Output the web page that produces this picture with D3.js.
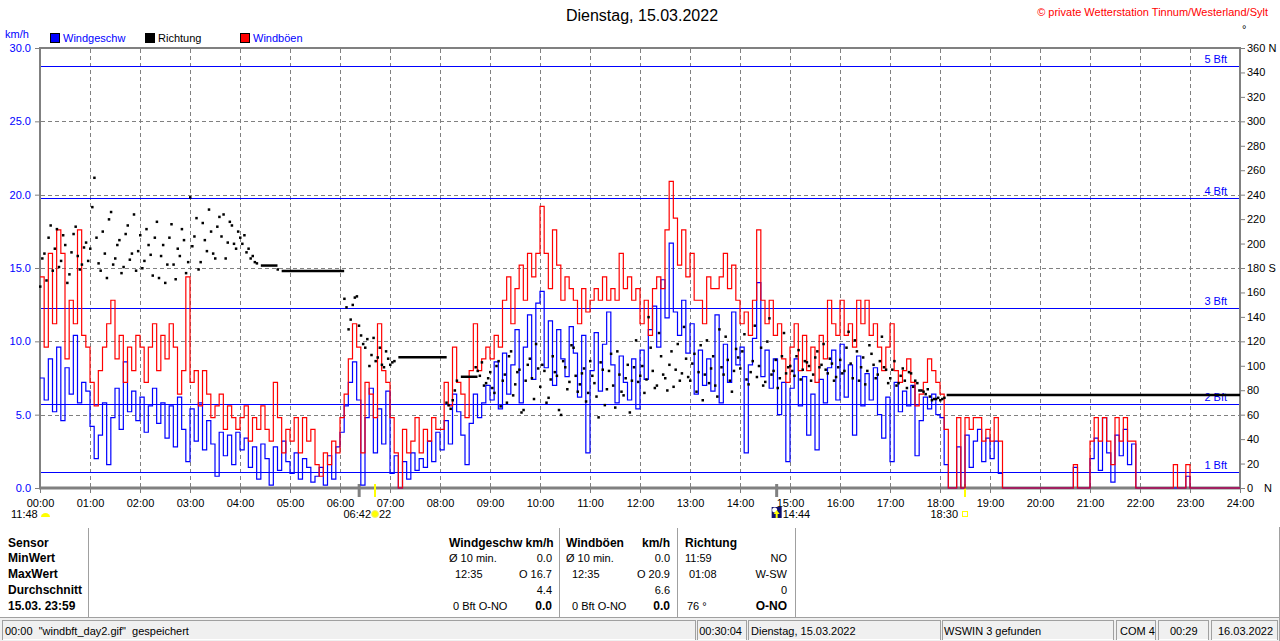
<!DOCTYPE html>
<html>
<head>
<meta charset="utf-8">
<script src="https://cdn.jsdelivr.net/npm/d3@7"></script>
<style>
  body { margin: 0; background: #fff; }
  svg { display: block; font-family: "Liberation Sans", Arial, sans-serif; }
  .pre { white-space: pre; }
</style>
</head>
<body>
<svg id="chart"></svg>
<script>
// --- Daten: 5-Minuten-Werte, je Zeile eine Stunde (00:00 .. 23:55) ---
const windgeschw = [
  [7.5, 6.0, 8.8, 5.2, 9.6, 4.6, 8.2, 6.4, 10.4, 5.8, 7.2, 6.6],
  [4.2, 2.0, 3.6, 5.8, 1.6, 4.8, 6.8, 4.0, 8.6, 5.2, 6.6, 4.6],
  [6.2, 3.8, 5.6, 6.8, 4.4, 5.8, 3.4, 5.6, 2.8, 6.2, 4.0, 1.8],
  [5.4, 3.2, 5.8, 2.6, 4.6, 3.0, 0.8, 3.8, 2.2, 3.6, 1.6, 3.8],
  [2.6, 3.4, 1.4, 2.8, 0.6, 3.0, 2.0, 0.2, 2.8, 1.2, 3.2, 1.8],
  [1.0, 2.4, 0.6, 2.0, 1.4, 0.4, 0.8, 1.4, 0.2, 2.2, 0.6, 2.8],
  [3.8, 5.6, 7.2, 8.6, 6.0, 0.2, 4.8, 6.8, 2.4, 5.4, 3.0, 6.6],
  [1.0, 2.2, 0.0, 1.8, 0.6, 2.4, 1.2, 2.0, 1.4, 3.2, 1.8, 3.8],
  [2.6, 4.6, 3.0, 6.4, 5.2, 3.6, 1.6, 4.4, 6.4, 4.8, 5.8, 7.0],
  [6.0, 8.6, 5.4, 9.2, 6.4, 8.4, 10.8, 5.8, 9.6, 11.8, 7.4, 12.6],
  [13.4, 8.2, 11.4, 7.0, 10.8, 8.8, 7.6, 11.0, 9.2, 6.2, 10.4, 2.4],
  [8.0, 10.6, 6.6, 9.8, 12.0, 8.4, 5.8, 9.0, 7.2, 6.0, 8.8, 5.4],
  [9.4, 7.4, 10.8, 12.4, 9.6, 14.2, 11.6, 16.7, 12.0, 10.4, 12.8, 9.2],
  [11.2, 6.4, 9.4, 7.0, 8.8, 6.6, 11.8, 5.8, 9.8, 7.2, 12.0, 8.4],
  [9.6, 2.4, 8.4, 10.2, 14.0, 7.6, 9.4, 6.8, 8.8, 5.0, 7.2, 1.8],
  [6.8, 8.8, 5.6, 7.6, 3.6, 6.4, 2.6, 7.4, 5.8, 8.2, 9.4, 6.0],
  [9.8, 6.2, 8.4, 3.6, 9.0, 5.6, 7.8, 6.0, 8.2, 5.0, 3.4, 6.2],
  [1.8, 7.2, 5.2, 6.6, 5.6, 7.0, 2.2, 4.6, 6.2, 5.4, 6.4, 5.0],
  [4.8, 1.6, 0.0, 0.0, 2.8, 0.0, 3.6, 1.4, 3.2, 4.0, 1.8, 3.4],
  [2.0, 3.2, 1.0, 0, 0, 0, 0, 0, 0, 0, 0, 0],
  [0, 0, 0, 0, 0, 0, 0, 0, 1.4, 0, 0, 0],
  [2.0, 3.4, 1.2, 4.8, 2.4, 0.4, 3.6, 2.2, 4.0, 1.6, 3.0, 0],
  [0, 0, 0, 0, 0, 0, 0, 0, 0, 0, 0, 0.8],
  [0, 0, 0, 0, 0, 0, 0, 0, 0, 0, 0, 0]
].flat();

const windboeen = [
  [14.4, 9.6, 16.0, 11.2, 17.6, 16.0, 8.8, 12.8, 11.2, 17.6, 10.4, 9.6],
  [7.2, 5.6, 8.0, 9.6, 11.2, 12.8, 8.8, 10.4, 7.2, 9.6, 8.0, 10.4],
  [9.6, 7.2, 9.6, 11.2, 8.0, 10.4, 8.8, 11.2, 9.6, 6.4, 8.0, 14.4],
  [7.2, 8.0, 5.6, 8.0, 6.4, 4.8, 5.6, 6.4, 4.0, 5.6, 4.8, 4.0],
  [4.8, 5.6, 3.2, 4.8, 4.0, 5.6, 4.0, 3.2, 7.2, 4.8, 2.4, 4.0],
  [3.2, 4.8, 2.4, 4.8, 3.2, 4.0, 1.6, 0.8, 2.4, 1.6, 3.2, 2.4],
  [4.8, 6.4, 8.8, 11.2, 9.6, 2.4, 7.2, 6.4, 4.8, 11.2, 8.0, 7.2],
  [4.8, 2.4, 0.0, 4.0, 2.4, 3.2, 4.8, 2.4, 4.0, 3.2, 4.8, 4.0],
  [4.0, 7.2, 5.6, 9.6, 7.2, 6.4, 4.8, 8.0, 11.2, 8.0, 8.8, 9.6],
  [8.8, 10.4, 9.6, 12.8, 14.4, 11.2, 13.6, 15.2, 12.8, 16.0, 14.4, 16.0],
  [19.2, 16.0, 13.6, 17.6, 15.2, 12.8, 14.4, 13.6, 12.8, 11.2, 13.6, 12.0],
  [12.8, 13.6, 12.8, 14.4, 12.8, 13.6, 12.8, 16.0, 13.6, 14.4, 12.8, 13.6],
  [11.2, 12.8, 10.4, 13.6, 14.4, 13.6, 17.6, 20.9, 18.4, 15.2, 17.6, 14.4],
  [16.0, 12.8, 12.8, 11.2, 14.4, 13.6, 13.6, 14.4, 16.0, 13.6, 15.2, 12.8],
  [11.2, 12.0, 10.4, 12.8, 17.6, 12.8, 11.2, 12.8, 10.4, 11.2, 8.8, 7.2],
  [9.6, 11.2, 8.0, 10.4, 8.0, 9.6, 7.2, 10.4, 8.8, 12.8, 11.2, 10.4],
  [12.8, 10.4, 11.2, 9.6, 12.8, 11.2, 12.8, 10.4, 11.2, 9.6, 8.0, 9.6],
  [11.2, 8.0, 7.2, 8.0, 8.8, 7.2, 5.6, 6.4, 7.2, 8.8, 8.0, 7.2],
  [6.4, 4.0, 0.0, 0.0, 4.8, 0.0, 4.8, 4.0, 4.8, 4.8, 3.2, 4.0],
  [3.2, 4.8, 3.2, 0, 0, 0, 0, 0, 0, 0, 0, 0],
  [0, 0, 0, 0, 0, 0, 0, 0, 1.6, 0, 0, 0],
  [3.2, 4.8, 3.2, 4.8, 3.2, 1.6, 4.8, 3.2, 4.8, 3.2, 3.2, 0],
  [0, 0, 0, 0, 0, 0, 0, 0, 1.6, 0, 0, 1.6],
  [0, 0, 0, 0, 0, 0, 0, 0, 0, 0, 0, 0]
].flat();

// Richtung in Grad zur vollen 5. Minute, null = konstante Phase (siehe richtungKonstant)
const _ = null;
const richtung = [
  [165, 192, 205, 178, 212, 186, 199, 175, 208, 190, 183, 201],
  [196, 254, 184, 210, 172, 226, 188, 203, 181, 215, 192, 178],
  [207, 186, 199, 174, 218, 190, 168, 205, 183, 196, 212, 176],
  [238, 206, 179, 217, 194, 210, 188, 222, 224, 201, 215, 196],
  [205, 207, 196, 190, 184, _, _, _, _, 179, _, _],
  [_, _, _, _, _, _, _, _, _, _, _, _],
  [_, 155, 130, 150, 157, 125, 115, 100, 123, 107, 101, 112],
  [101, 104, _, _, _, _, _, _, _, _, _, _],
  [_, _, 68, 72, 88, _, _, _, _, 96, 103, 86],
  [95, 78, 104, 88, 70, 112, 85, 97, 64, 101, 90, 118],
  [83, 96, 74, 108, 92, 60, 99, 87, 115, 79, 94, 71],
  [104, 86, 58, 97, 81, 110, 66, 93, 76, 101, 88, 121],
  [92, 78, 140, 96, 84, 108, 90, 101, 83, 118, 94, 106],
  [88, 110, 95, 72, 121, 98, 84, 130, 93, 105, 79, 114],
  [98, 126, 85, 104, 91, 115, 87, 139, 96, 82, 108, 94],
  [100, 92, 113, 97, 103, 88, 107, 99, 118, 94, 102, 91],
  [105, 96, 128, 90, 112, 99, 85, 117, 101, 93, 124, 97],
  [90, 104, 86, 98, 82, 94, 88, 80, 79, 81, 72, 73],
  [72, 74, _, _, _, _, _, _, _, _, _, _],
  [_, _, _, _, _, _, _, _, _, _, _, _],
  [_, _, _, _, _, _, _, _, _, _, _, _],
  [_, _, _, _, _, _, _, _, _, _, _, _],
  [_, _, _, _, _, _, _, _, _, _, _, _],
  [_, _, _, _, _, _, _, _, _, _, _, _]
].flat();

// Richtung jeweils 2,5 Minuten später
const richtungZwischen = [
  [188, 170, 215, 196, 181, 207, 168, 193, 214, 179, 197, 186],
  [230, 205, 178, 192, 220, 183, 199, 176, 208, 187, 224, 194],
  [180, 212, 191, 205, 172, 199, 183, 216, 171, 190, 203, 185],
  [198, 221, 185, 203, 228, 192, 214, 206, 188, 218, 200, 210],
  [200, 193, 188, 185, _, _, _, _, _, _, _, _],
  [_, _, _, _, _, _, _, _, _, _, _, _],
  [_, 148, 138, 156, 133, 118, 122, 109, 104, 115, 99, 106],
  [103, _, _, _, _, _, _, _, _, _, _, _],
  [_, 70, 65, 80, _, _, _, _, 99, 92, 84, 90],
  [82, 100, 67, 93, 108, 76, 95, 62, 88, 106, 73, 98],
  [101, 70, 89, 95, 64, 104, 81, 117, 92, 85, 98, 78],
  [92, 75, 103, 68, 96, 84, 112, 79, 90, 62, 99, 87],
  [100, 89, 115, 82, 127, 93, 80, 112, 97, 88, 132, 91],
  [102, 79, 117, 93, 86, 108, 75, 99, 124, 88, 96, 107],
  [112, 89, 95, 133, 100, 84, 120, 93, 105, 90, 127, 99],
  [96, 108, 89, 104, 100, 93, 112, 101, 97, 106, 88, 99],
  [94, 115, 102, 121, 88, 107, 96, 110, 90, 104, 99, 86],
  [97, 84, 92, 88, 95, 83, 86, 80, 77, 75, 73, 74],
  [73, _, _, _, _, _, _, _, _, _, _, _],
  [_, _, _, _, _, _, _, _, _, _, _, _],
  [_, _, _, _, _, _, _, _, _, _, _, _],
  [_, _, _, _, _, _, _, _, _, _, _, _],
  [_, _, _, _, _, _, _, _, _, _, _, _],
  [_, _, _, _, _, _, _, _, _, _, _, _]
].flat();

const richtungKonstant = [
  ["04:25", "04:45", 182],
  ["04:50", "06:05", 177.5],
  ["07:10", "08:08", 107],
  ["08:25", "08:45", 91],
  ["18:08", "24:00", 76]
];

const zeitLabels = ["00:00","01:00","02:00","03:00","04:00","05:00","06:00","07:00","08:00",
  "09:00","10:00","11:00","12:00","13:00","14:00","15:00","16:00","17:00","18:00",
  "19:00","20:00","21:00","22:00","23:00","24:00"];
const kmhTicks = [0, 5, 10, 15, 20, 25, 30];
const gradTicks = d3.range(0, 361, 20);
const bftStufen = [["1 Bft", 1.08], ["2 Bft", 5.76], ["3 Bft", 12.24], ["4 Bft", 19.8], ["5 Bft", 28.8]];

const legende = [["Windgeschw", "#0000ff", "#0000ff"], ["Richtung", "#000000", "#000000"], ["Windböen", "#ff0000", "#0000ff"]];

const tabSensor = ["Sensor", "MinWert", "MaxWert", "Durchschnitt", "15.03. 23:59"];
const tabSpalten = [
  { titel: "Windgeschw km/h", titelR: "", links: ["Ø 10 min.", "12:35", "", "0 Bft O-NO"], rechts: ["0.0", "O 16.7", "4.4", "0.0"] },
  { titel: "Windböen", titelR: "km/h", links: ["Ø 10 min.", "12:35", "", "0 Bft O-NO"], rechts: ["0.0", "O 20.9", "6.6", "0.0"] },
  { titel: "Richtung", titelR: "", links: ["11:59", "01:08", "", "76 °"], rechts: ["NO", "W-SW", "0", "O-NO"] }
];
const statusTexte = ["00:00  \"windbft_day2.gif\"  gespeichert", "00:30:04", "Dienstag, 15.03.2022",
  "WSWIN 3 gefunden", "COM 4", "00:29", "16.03.2022"];

// --- Zeichnen ---
const W = 1280, H = 641;
const gray = "#808080", blue = "#0000ff", red = "#ff0000";
const min = t => { const [h, m] = t.split(":").map(Number); return h * 60 + m; };

const svg = d3.select("#chart").attr("width", W).attr("height", H);
const x = d3.scaleLinear([0, 1440], [40, 1240]);
const y = d3.scaleLinear([0, 30], [488, 48]);
const yDir = d3.scaleLinear([0, 360], [488, 48]);

// Titel und Kopf
svg.append("text").attr("x", 642).attr("y", 21).attr("text-anchor", "middle")
  .style("font-size", "16px").text("Dienstag, 15.03.2022");
svg.append("text").attr("x", 1268).attr("y", 16).attr("text-anchor", "end")
  .style("font-size", "11px").attr("fill", red).text("© private Wetterstation Tinnum/Westerland/Sylt");
svg.append("text").attr("x", 5).attr("y", 38).attr("fill", blue).style("font-size", "11px").text("km/h");
svg.append("text").attr("x", 1242).attr("y", 33).style("font-size", "11px").text("°");

const lg = svg.append("g").style("font-size", "11px");
[50, 145, 240].forEach((lx, i) => {
  lg.append("rect").attr("x", lx + 0.5).attr("y", 33.5).attr("width", 9).attr("height", 9)
    .attr("fill", legende[i][1]).attr("stroke", "#000");
  lg.append("text").attr("x", lx + 13).attr("y", 42).attr("fill", legende[i][2]).text(legende[i][0]);
});

// Gitter
const grid = svg.append("g").attr("stroke", gray).attr("stroke-dasharray", "4,3").attr("stroke-width", 1);
d3.range(60, 1440, 60).forEach(t => {
  grid.append("line").attr("x1", Math.round(x(t)) + 0.5).attr("x2", Math.round(x(t)) + 0.5)
    .attr("y1", 49).attr("y2", 493);
});
[5, 10, 15, 20, 25].forEach(v => {
  grid.append("line").attr("x1", 41).attr("x2", 1239)
    .attr("y1", Math.round(y(v)) + 0.5).attr("y2", Math.round(y(v)) + 0.5);
});

// Beaufort-Linien
const bft = svg.append("g");
bftStufen.forEach(([lab, v]) => {
  const yy = Math.round(y(v)) + 0.5;
  bft.append("line").attr("x1", 41).attr("x2", 1239).attr("y1", yy).attr("y2", yy)
    .attr("stroke", blue).attr("stroke-width", 1);
  bft.append("text").attr("x", 1227).attr("y", yy - 4).attr("text-anchor", "end")
    .attr("fill", blue).style("font-size", "11px").text(lab);
});

// Achsen
const axL = svg.append("g").attr("transform", "translate(40,0)")
  .call(d3.axisLeft(y).tickValues(kmhTicks).tickFormat(d3.format(".1f")).tickSize(5).tickPadding(4));
axL.selectAll("text").attr("fill", blue).style("font-size", "11px");

const axR = svg.append("g").attr("transform", "translate(1240,0)")
  .call(d3.axisRight(yDir).tickValues(gradTicks).tickSize(5).tickPadding(2)
    .tickFormat(d => d === 360 ? "360 N" : d === 180 ? "180 S" : d));
axR.selectAll("text").attr("fill", "#000").style("font-size", "11px");
svg.append("text").attr("x", 1264).attr("y", 492).style("font-size", "11px").text("N");

const axB = svg.append("g").attr("transform", "translate(0,488)")
  .call(d3.axisBottom(x).tickValues(d3.range(0, 1441, 60)).tickFormat(t => zeitLabels[t / 60])
    .tickSize(5).tickPadding(6));
axB.selectAll("text").attr("fill", "#000").style("font-size", "11px");

[axL, axR, axB].forEach(a => {
  a.select(".domain").remove();
  a.selectAll(".tick line").attr("stroke", gray);
});

// Rahmen
svg.append("rect").attr("x", 40).attr("y", 48).attr("width", 1200).attr("height", 440)
  .attr("fill", "none").attr("stroke", gray).attr("stroke-width", 2);
svg.append("line").attr("x1", 39).attr("x2", 1241).attr("y1", 488).attr("y2", 488)
  .attr("stroke", gray).attr("stroke-width", 3);

// Marken an der Zeitachse (Dämmerung, Sonne, Mond)
[["06:23", gray, 3], ["06:42", "#ffff00", 2], ["14:44", gray, 3], ["18:30", "#ffff00", 2]].forEach(([t, c, w]) => {
  svg.append("line").attr("x1", x(min(t))).attr("x2", x(min(t))).attr("y1", 484).attr("y2", 497)
    .attr("stroke", c).attr("stroke-width", w);
});

// Reihen
const pts = arr => {
  const p = arr.map((v, i) => [i * 5, v]);
  p.push([1440, arr[arr.length - 1]]);
  return p;
};
const stepLine = d3.line().x(d => x(d[0])).y(d => y(d[1])).curve(d3.curveStepAfter);

svg.append("path").datum(pts(windgeschw)).attr("d", stepLine)
  .attr("fill", "none").attr("stroke", blue).attr("stroke-width", 1.2);
svg.append("path").datum(pts(windboeen)).attr("d", stepLine)
  .attr("fill", "none").attr("stroke", red).attr("stroke-width", 1.2);

const dir = svg.append("g").attr("fill", "#000");
[[richtung, 0], [richtungZwischen, 2.5]].forEach(([arr, off]) => {
  arr.forEach((v, i) => {
    if (v === null) return;
    dir.append("rect").attr("x", x(i * 5 + off) - 1).attr("y", yDir(v) - 1).attr("width", 2.5).attr("height", 2.5);
  });
});
richtungKonstant.forEach(([a, b, v]) => {
  dir.append("line").attr("x1", x(min(a))).attr("x2", x(min(b))).attr("y1", yDir(v)).attr("y2", yDir(v))
    .attr("stroke", "#000").attr("stroke-width", 2.5);
});

// Beschriftung unter der Achse
const ev = svg.append("g").style("font-size", "11px");
ev.append("text").attr("x", 11).attr("y", 518).text("11:48");
ev.append("path").attr("d", "M41,517 A4.5,4 0 0 1 50,517 Z").attr("fill", "#ffff00");
const xs = x(min("06:42"));
ev.append("text").attr("x", xs - 4).attr("y", 518).attr("text-anchor", "end").text("06:42");
ev.append("circle").attr("cx", xs).attr("cy", 514).attr("r", 3.5).attr("fill", "#ffff00").attr("stroke", "#f0f080");
ev.append("text").attr("x", xs + 4).attr("y", 518).text("22");
const xm = x(min("14:44"));
ev.append("rect").attr("x", xm - 5).attr("y", 507).attr("width", 10).attr("height", 11).attr("fill", "#101070");
ev.append("circle").attr("cx", xm - 2).attr("cy", 510).attr("r", 2.5).attr("fill", "#fff");
ev.append("path").attr("d", `M${xm},510 L${xm + 3},514 L${xm + 1},514 L${xm + 1},518 L${xm - 1},518 L${xm - 1},514 L${xm - 3},514 Z`)
  .attr("fill", "#ffff00");
ev.append("text").attr("x", xm + 6).attr("y", 518).text("14:44");
const xu = x(min("18:30"));
ev.append("text").attr("x", xu - 7).attr("y", 518).attr("text-anchor", "end").text("18:30");
ev.append("rect").attr("x", xu - 2.5).attr("y", 511.5).attr("width", 5).attr("height", 5)
  .attr("fill", "none").attr("stroke", "#ffff00");

// Tabelle
const tab = svg.append("g");
[88, 559, 677, 795].forEach(sx => {
  tab.append("line").attr("x1", sx + 0.5).attr("x2", sx + 0.5).attr("y1", 528).attr("y2", 617)
    .attr("stroke", "#a0a0a0");
});
const rowY = [547, 562, 578, 594, 610];
tabSensor.forEach((t, i) => {
  tab.append("text").attr("x", 8).attr("y", rowY[i]).style("font-size", "12px")
    .style("font-weight", "bold").text(t);
});
const colX = [[449, 455, 455, 453, 552], [566, 572, 572, 572, 670], [685, 689, 689, 687, 787]];
tabSpalten.forEach((c, ci) => {
  const [x0, x1, x2, x3, xr] = colX[ci];
  tab.append("text").attr("x", x0).attr("y", rowY[0]).style("font-size", "12px")
    .style("font-weight", "bold").text(c.titel);
  if (c.titelR) tab.append("text").attr("x", xr).attr("y", rowY[0]).attr("text-anchor", "end")
    .style("font-size", "12px").style("font-weight", "bold").text(c.titelR);
  const lx = [x0, x1, x2, x3];
  c.links.forEach((t, i) => {
    tab.append("text").attr("x", lx[i]).attr("y", rowY[i + 1]).style("font-size", "11px").text(t);
  });
  c.rechts.forEach((t, i) => {
    const last = i === 3;
    tab.append("text").attr("x", xr).attr("y", rowY[i + 1]).attr("text-anchor", "end")
      .style("font-size", last ? "12px" : "11px").style("font-weight", last ? "bold" : "normal").text(t);
  });
});

// Statuszeile
const st = svg.append("g");
st.append("rect").attr("x", 0).attr("y", 617).attr("width", W).attr("height", 24).attr("fill", "#f0f0f0");
st.append("line").attr("x1", 0).attr("x2", W).attr("y1", 617.5).attr("y2", 617.5).attr("stroke", "#a0a0a0");
st.append("line").attr("x1", 1279.5).attr("x2", 1279.5).attr("y1", 527).attr("y2", 641).attr("stroke", "#a0a0a0");
const panels = [[2, 695], [697, 746], [748, 940], [942, 1113], [1116, 1155], [1158, 1208], [1211, 1277]];
panels.forEach(([a, b]) => {
  st.append("rect").attr("x", a + 0.5).attr("y", 620.5).attr("width", b - a).attr("height", 19)
    .attr("fill", "none").attr("stroke", "#a0a0a0");
  st.append("line").attr("x1", a + 1).attr("x2", b).attr("y1", 639.5).attr("y2", 639.5).attr("stroke", "#fff");
});
const stX = [[5, "start"], [742, "end"], [751, "start"], [944, "start"], [1120, "start"], [1170, "start"], [1218, "start"]];
statusTexte.forEach((t, i) => {
  st.append("text").attr("class", "pre").attr("x", stX[i][0]).attr("y", 635)
    .attr("text-anchor", stX[i][1]).style("font-size", "11px").text(t);
});
</script>
</body>
</html>
